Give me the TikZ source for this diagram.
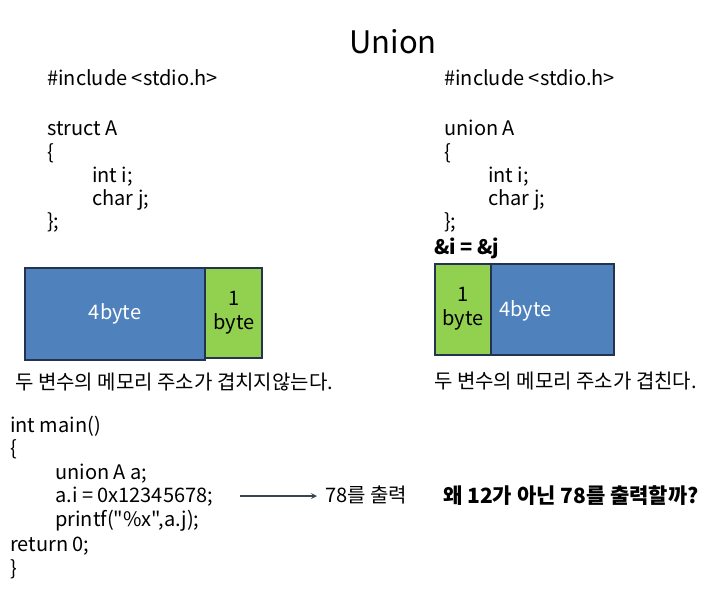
\documentclass[tikz,border=0pt]{standalone}
\usepackage{fontspec}
\setmainfont{Noto Sans CJK KR}
\newfontfamily\plainfont{Noto Sans CJK KR}
\usetikzlibrary{arrows, positioning}
\definecolor{blockblue}{RGB}{79,129,189}
\definecolor{blockgreen}{RGB}{146,208,80}
\definecolor{blockline}{RGB}{36,52,80}
\tikzstyle{code} = [anchor=base west,inner sep=0pt,font=\fontsize{20}{24}\selectfont]
\tikzstyle{memblue} = [draw=blockline,fill=blockblue,line width=2pt]
\tikzstyle{memgreen} = [draw=blockline,fill=blockgreen,line width=2pt]
\tikzstyle{fleche} = [->,>=stealth,line width=1.6pt,draw=blockline!80!gray]

\begin{document}
\begin{tikzpicture}[x=1pt,y=-1pt]
	\useasboundingbox[fill=white] (0,0) rectangle (720,592);

	\node[font=\fontsize{31}{36}\selectfont] (title) at (393,42) {Union};

	% struct
	\node[code] (sinc) at (47,85) {\#include <stdio.h>};
	\node[code] (sname) at (47,135) {struct A};
	\node[code] (sopen) at (47,159) {\{};
	\node[code] (si) at (92,182) {int i;};
	\node[code] (sj) at (92,205) {char j;};
	\node[code] (sclose) at (47,228) {\};};

	% union
	\node[code] (uinc) at (444,85) {\#include <stdio.h>};
	\node[code] (uname) at (444,135) {union A};
	\node[code] (uopen) at (444,159) {\{};
	\node[code] (ui) at (488,182) {int i;};
	\node[code] (uj) at (488,205) {char j;};
	\node[code] (uclose) at (444,228) {\};};
	\node[code,font=\fontsize{20}{24}\bfseries\selectfont] (addr) at (434,254) {\&i = \&j};

	% memory (struct)
	\draw[memblue] (25,268) rectangle (205,360);
	\node[text=white,font=\fontsize{20}{24}\selectfont] (sfour) at (115,314) {4byte};
	\draw[memgreen] (205,268) rectangle (262,358);
	\node[align=center,font=\fontsize{20}{24}\selectfont] (sone) at (234,313) {1\\byte};
	\node[code] (scap) at (15,389) {두 변수의 메모리 주소가 겹치지않는다.};

	% memory (union)
	\draw[memblue] (491,264) rectangle (614,355);
	\draw[memgreen] (435,264) rectangle (491,355);
	\node[code,text=white] (ufour) at (499,316) {4byte};
	\node[align=center,font=\fontsize{20}{24}\selectfont] (uone) at (463,309) {1\\byte};
	\node[code] (ucap) at (434,388) {두 변수의 메모리 주소가 겹친다.};

	% main
	\node[code] (mhead) at (10,432) {int main()};
	\node[code] (mopen) at (10,455) {\{};
	\node[code] (mvar) at (55,479) {union A a;};
	\node[code] (mset) at (55,502) {a.i = 0x12345678;};
	\node[code] (mprint) at (55,526) {\plainfont printf("\%x",a.j);};
	\node[code] (mret) at (10,551) {return 0;};
	\node[code] (mclose) at (10,575) {\}};

	\node[code] (out) at (325,502) {78를 출력};
	\node[code,font=\fontsize{21}{25}\bfseries\selectfont] (why) at (443,503) {왜 12가 아닌 78를 출력할까?};

	\coordinate (astart) at (240,496);
	\draw[fleche] (astart) -- ([xshift=-8pt]out.west |- astart);

\end{tikzpicture}
\end{document}
